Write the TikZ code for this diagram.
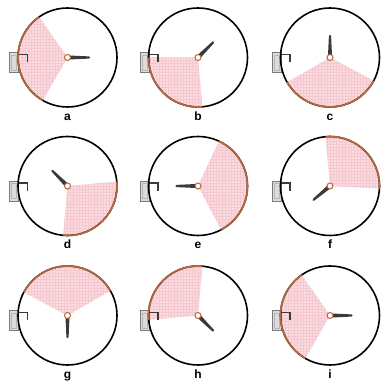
\documentclass[tikz,border=0pt]{standalone}
\usepackage{fontspec}
\setmainfont{Liberation Sans}
\definecolor{wedgepink}{HTML}{FADCE0}
\definecolor{gridpink}{HTML}{F4C8CE}
\definecolor{arcbrown}{HTML}{B4683E}
\definecolor{needlegray}{HTML}{3A3A3A}
\definecolor{boxgray}{HTML}{7A7A7A}
\definecolor{boxfill}{HTML}{DCDCDC}
\tikzset{
  dialline/.style={black, line width=1.6},
  dialarc/.style={arcbrown, line width=1.6},
  sensorbox/.style={boxgray, fill=boxfill, line width=0.9},
  sensorinner/.style={boxgray!55, line width=0.5},
  bracketline/.style={needlegray, line width=1.1},
  hubring/.style={arcbrown, fill=white, line width=1},
  panellabel/.style={font=\bfseries\fontsize{12}{12}\selectfont, anchor=base, inner sep=0pt},
}
% #1 name, #2 cx, #3 cy, #4 wedge start, #5 wedge end, #6 hand angle, #7 label
\newcommand{\dialpanel}[7]{%
  \begin{scope}[shift={(#2,#3)}]
    \fill[wedgepink] (0,0) -- (#4:49.5) arc[start angle=#4, end angle=#5, radius=49.5] -- cycle;
    \begin{scope}
      \clip (0,0) -- (#4:49.5) arc[start angle=#4, end angle=#5, radius=49.5] -- cycle;
      \draw[gridpink, line width=0.25] (-51,-51) grid[step=3pt] (51,51);
    \end{scope}
    \draw[sensorbox] (-58,-15) rectangle (-49,5);
    \draw[sensorinner] (-56,-12.5) rectangle (-51,2.5);
    \draw[bracketline] (-49.5,3) -- (-40,3) -- (-40,-5);
    \draw[dialline] (0,0) circle[radius=49.5];
    \draw[dialarc] (#4:49.5) arc[start angle=#4, end angle=#5, radius=49.5];
    \fill[needlegray, rotate=#6] (2,-2) -- (21.5,-1.1) arc[start angle=-90, end angle=90, radius=1.1] -- (2,2) -- cycle;
    \draw[hubring] (0,0) circle[radius=3];
    \node[panellabel] (#1) at (0,-63) {#7};
  \end{scope}}
\begin{document}
\begin{tikzpicture}[x=1pt, y=1pt]
  \useasboundingbox (0,0) rectangle (381,382);
  \fill[white] (0,0) rectangle (381,382);
  \dialpanel{la}{67.5}{324.5}{125}{240}{0}{a}
  \dialpanel{lb}{198}{324.5}{180}{275}{45}{b}
  \dialpanel{lc}{330}{324.5}{210}{332}{90}{c}
  \dialpanel{ld}{67.5}{196}{-95}{5}{135}{d}
  \dialpanel{le}{198}{196}{-62}{65}{180}{e}
  \dialpanel{lf}{330}{196}{-3}{95}{220}{f}
  \dialpanel{lg}{67.5}{66.5}{30}{152}{270}{g}
  \dialpanel{lh}{198}{66.5}{85}{185}{315}{h}
  \dialpanel{li}{330}{66.5}{125}{240}{0}{i}
\end{tikzpicture}
\end{document}
